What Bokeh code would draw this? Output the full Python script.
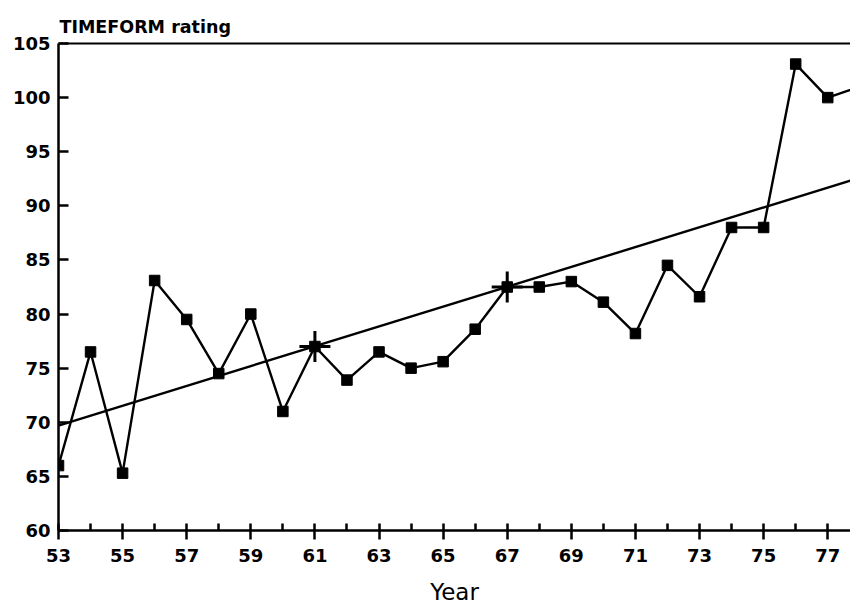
from bokeh.plotting import figure
from bokeh.models import FixedTicker, LinearAxis, Range1d
from bokeh.embed import file_html
from bokeh.resources import INLINE

# Data
years = list(range(53, 79))
ratings = [66.0, 76.5, 65.3, 83.1, 79.5, 74.5, 80.0, 71.0, 77.0, 73.9,
           76.5, 75.0, 75.6, 78.6, 82.5, 82.5, 83.0, 81.1, 78.2, 84.5,
           81.6, 88.0, 88.0, 103.1, 100.0, 101.0]
trend_years = [53, 78]
trend_values = [69.7, 92.6]
cross_years = [61, 67]
cross_values = [77.0, 82.5]
x_ticks = list(range(53, 78, 2))
x_minor_ticks = list(range(54, 79, 2))
y_ticks = list(range(60, 106, 5))

FONT = "DejaVu Sans"

p = figure(width=850, height=607,
           x_range=Range1d(53, 77.71), y_range=Range1d(60, 105),
           output_backend="svg", toolbar_location=None,
           min_border_left=58, min_border_right=0,
           min_border_top=43, min_border_bottom=75,
           title="TIMEFORM rating")

p.title.text_font = FONT
p.title.text_font_size = "17.5px"
p.title.text_font_style = "bold"
p.title.text_color = "black"
p.title.align = "left"
p.title.offset = 1
p.title.standoff = 14

p.outline_line_color = None
p.xgrid.visible = False
p.ygrid.visible = False
p.background_fill_color = "white"
p.border_fill_color = "white"

# Trend line and data series
p.line(trend_years, trend_values, line_color="black", line_width=2.4)
p.line(years, ratings, line_color="black", line_width=2.4)
p.scatter(years, ratings, marker="square", size=10.5, fill_color="black", line_color="black")
p.scatter(cross_years, cross_values, marker="cross", size=31, line_color="black", line_width=3)

# Axes
xa = p.xaxis[0]
xa.ticker = FixedTicker(ticks=x_ticks, minor_ticks=x_minor_ticks)
xa.axis_label = "Year"
xa.axis_label_text_font = FONT
xa.axis_label_text_font_size = "23px"
xa.axis_label_text_font_style = "normal"
xa.axis_label_text_color = "black"
xa.axis_label_standoff = 14
xa.major_label_text_font = FONT
xa.major_label_text_font_size = "18px"
xa.major_label_text_font_style = "bold"
xa.major_label_text_color = "black"
xa.major_label_standoff = 9
xa.axis_line_width = 2.5
xa.major_tick_line_width = 2.5
xa.minor_tick_line_width = 2.5
xa.major_tick_in = 7
xa.major_tick_out = 9
xa.minor_tick_in = 7
xa.minor_tick_out = 0

ya = p.yaxis[0]
ya.ticker = FixedTicker(ticks=y_ticks)
ya.major_label_text_font = FONT
ya.major_label_text_font_size = "18px"
ya.major_label_text_font_style = "bold"
ya.major_label_text_color = "black"
ya.major_label_standoff = 8
ya.axis_line_width = 2.5
ya.major_tick_line_width = 2.5
ya.major_tick_in = 10
ya.major_tick_out = 0
ya.minor_tick_line_color = None

top = LinearAxis(ticker=FixedTicker(ticks=[]), major_label_text_font_size="0px",
                 axis_line_width=2.2, major_tick_line_color=None, minor_tick_line_color=None)
p.add_layout(top, "above")

open("out.html", "w").write(file_html(p, INLINE))
